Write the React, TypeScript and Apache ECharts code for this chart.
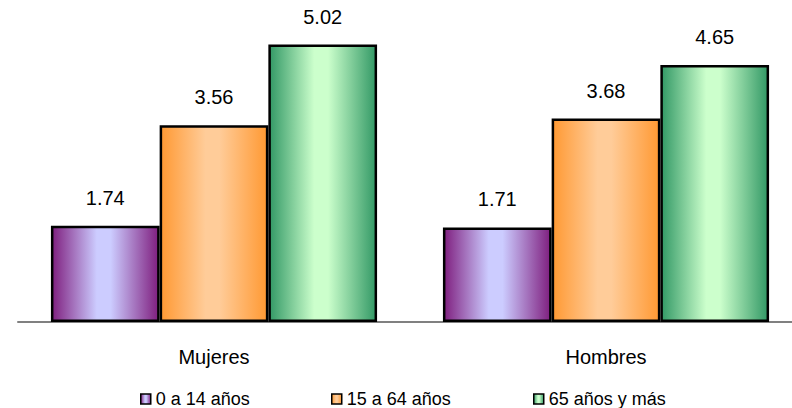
import React, { useEffect, useRef } from "react";
import * as echarts from "echarts";

const categories = ["Mujeres", "Hombres"];
const seriesNames = ["0 a 14 años", "15 a 64 años", "65 años y más"];
const values014 = [1.74, 1.71];
const values1564 = [3.56, 3.68];
const values65 = [5.02, 4.65];

const edgeColors = ["#7f1f7f", "#ff9933", "#339966"];
const centerColors = ["#ccccff", "#ffcc99", "#ccffcc"];
const legendLefts = [140, 331, 533];

function barGradient(i: number) {
  return new echarts.graphic.LinearGradient(0, 0, 1, 0, [
    { offset: 0, color: edgeColors[i] },
    { offset: 0.42, color: centerColors[i] },
    { offset: 0.55, color: centerColors[i] },
    { offset: 1, color: edgeColors[i] },
  ]);
}

export default function App() {
  const ref = useRef<HTMLDivElement>(null);

  useEffect(() => {
    document.body.style.margin = "0";
    if (!ref.current) return;
    const chart = echarts.init(ref.current, null, { renderer: "svg" });
    const font = "Arial, 'Liberation Sans', sans-serif";
    const allValues = [values014, values1564, values65];
    chart.setOption({
      animation: false,
      textStyle: { fontFamily: font },
      // the plot runs past the right edge of the visible frame
      grid: { left: 18, right: 18, top: 18, bottom: 86 },
      legend: seriesNames.map((name, i) => ({
        data: [{ name, icon: "rect" }],
        bottom: 0,
        left: legendLefts[i],
        padding: 0,
        itemWidth: 10,
        itemHeight: 10,
        itemStyle: { borderColor: "#000", borderWidth: 1.5 },
        textStyle: { fontSize: 18, color: "#000", fontFamily: font },
      })),
      xAxis: {
        type: "category",
        data: categories,
        axisLine: { lineStyle: { color: "#808080", width: 2 } },
        axisTick: { show: false },
        axisLabel: { fontSize: 20, color: "#000", margin: 25, fontFamily: font },
      },
      yAxis: {
        type: "value",
        min: 0,
        max: 5.5,
        show: false,
        splitLine: { show: false },
      },
      series: seriesNames.map((name, i) => ({
        name,
        type: "bar",
        data: allValues[i],
        barGap: "0%",
        barCategoryGap: "16.8%",
        itemStyle: {
          color: barGradient(i),
          borderColor: "#000",
          borderWidth: 2.5,
        },
        label: {
          show: true,
          position: "top",
          distance: 18,
          fontSize: 20,
          color: "#000",
          fontFamily: font,
          formatter: (p: any) => p.value.toFixed(2),
        },
      })),
    });
    return () => chart.dispose();
  }, []);

  return (
    <div style={{ width: 792, height: 408, overflow: "hidden" }}>
      <div ref={ref} style={{ width: 820, height: 408 }} />
    </div>
  );
}
